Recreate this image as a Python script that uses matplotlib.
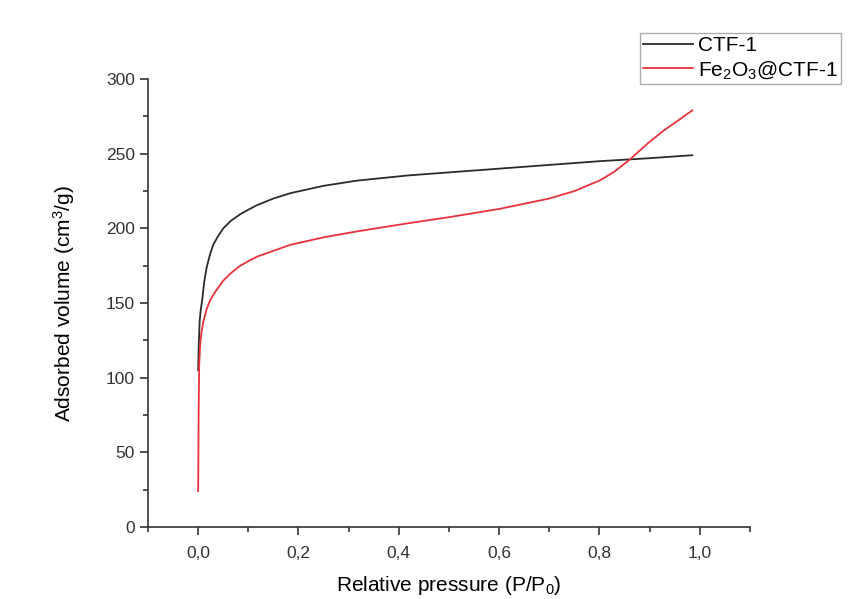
import numpy as np
import matplotlib
matplotlib.use("Agg")
import matplotlib.pyplot as plt
from matplotlib.ticker import MultipleLocator, FuncFormatter

plt.rcParams['font.family'] = ['Liberation Sans', 'DejaVu Sans']
plt.rcParams['mathtext.default'] = 'regular'

# ---- isotherm data ----
p_ctf = [0.0, 0.001, 0.003, 0.005, 0.008, 0.012, 0.017, 0.024, 0.03, 0.04, 0.05,
         0.065, 0.084, 0.1, 0.117, 0.15, 0.184, 0.25, 0.317, 0.42, 0.5, 0.6,
         0.7, 0.8, 0.9, 0.985]
v_ctf = [105, 120, 138, 145, 152, 164, 174, 183, 189, 195, 200,
         205, 209.5, 212.5, 215.5, 220, 223.6, 228.5, 232, 235.5, 237.5, 240,
         242.5, 245, 247, 249]

p_fe = [0.0, 0.0005, 0.001, 0.002, 0.004, 0.006, 0.01, 0.017, 0.024, 0.035, 0.05,
        0.065, 0.084, 0.1, 0.117, 0.15, 0.184, 0.25, 0.317, 0.42, 0.5, 0.6,
        0.7, 0.75, 0.8, 0.83, 0.86, 0.88, 0.9, 0.93, 0.96, 0.985]
v_fe = [24, 50, 80, 108, 122, 129, 137, 146, 152, 158, 165,
        170, 175, 178, 181, 185, 189, 194, 198, 203.5, 207.5, 213,
        220, 225, 232, 238, 246, 252, 258, 266, 273, 279]

fig = plt.figure(figsize=(8.63, 5.99), dpi=100)
ax = fig.add_axes([0.1715, 0.1202, 0.6975, 0.7478])

ax.plot(p_ctf, v_ctf, color='#2b2b2b', lw=1.3, label='CTF-1')
ax.plot(p_fe, v_fe, color='#e8323c', lw=1.3, label='Fe$_2$O$_3$@CTF-1')

ax.set_xlim(-0.1, 1.1)
ax.set_ylim(0, 300)
ax.xaxis.set_major_locator(MultipleLocator(0.2))
ax.xaxis.set_minor_locator(MultipleLocator(0.1))
ax.yaxis.set_major_locator(MultipleLocator(50))
ax.yaxis.set_minor_locator(MultipleLocator(25))
ax.xaxis.set_major_formatter(FuncFormatter(lambda v, pos: f'{v:.1f}'.replace('.', ',')))

for s in ['top', 'right']:
    ax.spines[s].set_visible(False)
for s in ['left', 'bottom']:
    ax.spines[s].set_color('#333333')
    ax.spines[s].set_linewidth(1.2)

ax.tick_params(which='major', direction='out', length=6, width=1.2, labelsize=12.5,
               colors='#333333')
ax.tick_params(which='minor', direction='out', length=3.5, width=1.2, colors='#333333')
ax.tick_params(axis='x', pad=8)

ax.set_xlabel('Relative pressure (P/P$_0$)', fontsize=15, labelpad=9)
ax.set_ylabel('Adsorbed volume (cm$^3$/g)', fontsize=15, labelpad=21)

leg = fig.legend(loc='upper left', bbox_to_anchor=(0.7416, 0.945), fontsize=15,
                 frameon=True, fancybox=False, handlelength=2.4, handletextpad=0.25,
                 borderpad=0.15, labelspacing=0.2, borderaxespad=0)
leg.get_frame().set_edgecolor('#999999')
leg.get_frame().set_linewidth(1.0)

fig.savefig('out.png', dpi=100)
